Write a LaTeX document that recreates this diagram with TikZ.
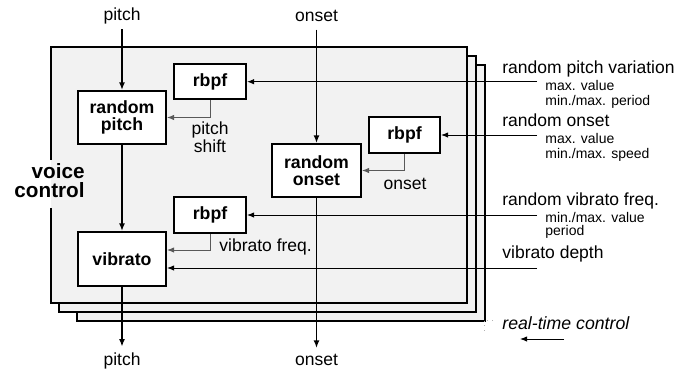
\documentclass[tikz,border=0pt]{standalone}
\usepackage{fontspec}
\setmainfont{Liberation Sans}
\usetikzlibrary{arrows.meta}
\begin{document}
\begin{tikzpicture}[x=0.5pt,y=-0.5pt,
  blk/.style={draw=black,line width=1pt,fill=white,font=\fontsize{8.85}{8.7}\selectfont\bfseries,align=center,inner sep=0pt},
  lbl/.style={inner sep=0pt,font=\fontsize{8.75}{10}\selectfont},
  sml/.style={inner sep=0pt,font=\fontsize{7}{7.5}\selectfont},
  main/.style={line width=0.75pt,-{Latex[length=3.8pt,width=3pt]}},
  ctl/.style={line width=0.5pt,-{Latex[length=3.6pt,width=2.8pt]}},
  fb/.style={line width=0.5pt,draw=black!65,-{Latex[length=3.6pt,width=2.8pt]}},
  panel/.style={fill=black!5,draw=black,line width=0.8pt}]
\useasboundingbox (0,0) rectangle (688,370);
% stacked panels
\draw[panel] (77,65) rectangle (485,321);
\draw[panel] (59,56) rectangle (476,312);
\fill[black!5] (51,47) rectangle (467,303);
\draw[line width=0.8pt] (51,160) -- (51,47) -- (467,47) -- (467,303) -- (51,303) -- (51,208);
\draw[black!30,dotted,line width=0.4pt] (493,320) -- (484,320) -- (484,332);
% voice control
\node[font=\fontsize{10.35}{9.5}\selectfont\bfseries,align=right,inner sep=0pt,anchor=east] (vc) at (85,181) {voice\\control};
% blocks
\node[blk,minimum width=44pt,minimum height=26.5pt] (rp) at (122,117.5) {random\\pitch};
\node[blk,minimum width=36pt,minimum height=17.5pt] (rb1) at (210,81.5) {rbpf};
\node[blk,minimum width=44.5pt,minimum height=26.5pt] (ro) at (316.5,170.5) {random\\onset};
\node[blk,minimum width=35.5pt,minimum height=18pt] (rb2) at (404.5,135) {rbpf};
\node[blk,minimum width=36pt,minimum height=18pt] (rb3) at (210,215) {rbpf};
\node[blk,minimum width=44pt,minimum height=27pt] (vib) at (122,259) {vibrato};
% top / bottom labels
\node[lbl,anchor=base] (pin) at (122,20.7) {pitch};
\node[lbl,anchor=base] (oin) at (316.5,21) {onset};
\node[lbl,anchor=base] (pout) at (122,365.7) {pitch};
\node[lbl,anchor=base] (oout) at (316.5,365.7) {onset};
\draw[main,shorten <=2.3pt] (pin.south) -- (rp.north);
\draw[main,shorten <=4pt] (oin.south) -- (ro.north);
\draw[main] (rp.south) -- (vib.north);
\draw[main,shorten >=3pt] (vib.south) -- (pout.north);
\draw[main,shorten >=3pt] (ro.south) -- (oout.north);
% feedback from rbpf blocks
\draw[fb] (rb1.south) |- (rp.east);
\draw[fb] (rb2.south) |- (ro.east);
\draw[fb] (rb3.south) |- ([yshift=4.5pt]vib.east);
\node[lbl,align=center,font=\fontsize{8.75}{7.2}\selectfont] (ps) at (210,137.5) {pitch\\shift};
\node[lbl,anchor=base] (ol) at (405,189) {onset};
\node[lbl,anchor=base west] (vf) at (219,251) {vibrato freq.};
% control inputs
\coordinate (in1) at (537,81.7);
\coordinate (in2) at (537,135);
\coordinate (in3) at (537,215);
\coordinate (in4) at (537,268);
\draw[ctl] (in1) -- (in1 -| rb1.east);
\draw[ctl] (in2) -- (in2 -| rb2.east);
\draw[ctl] (in3) -- (in3 -| rb3.east);
\draw[ctl] (in4) -- (in4 -| vib.east);
\node[lbl,anchor=base west] (t1) at (502,73.3) {random pitch variation};
\node[sml,anchor=base west] (t1a) at (545,90) {max. value};
\node[sml,anchor=base west] (t1b) at (545,105) {min./max. period};
\node[lbl,anchor=base west] (t2) at (502,126.7) {random onset};
\node[sml,anchor=base west] (t2a) at (545,143.3) {max. value};
\node[sml,anchor=base west] (t2b) at (545,158.3) {min./max. speed};
\node[lbl,anchor=base west] (t3) at (502,205.7) {random vibrato freq.};
\node[sml,anchor=base west] (t3a) at (545,222.3) {min./max. value};
\node[sml,anchor=base west] (t3b) at (545,235) {period};
\node[lbl,anchor=base west] (t4) at (502,258.3) {vibrato depth};
% real-time control
\node[lbl,anchor=base west,font=\fontsize{8.85}{10}\selectfont\itshape] (rt) at (502,329) {real-time control};
\coordinate (rtA) at (564,339);
\coordinate (rtB) at (520,339);
\draw[ctl] (rtA) -- (rtB);
\end{tikzpicture}
\end{document}
